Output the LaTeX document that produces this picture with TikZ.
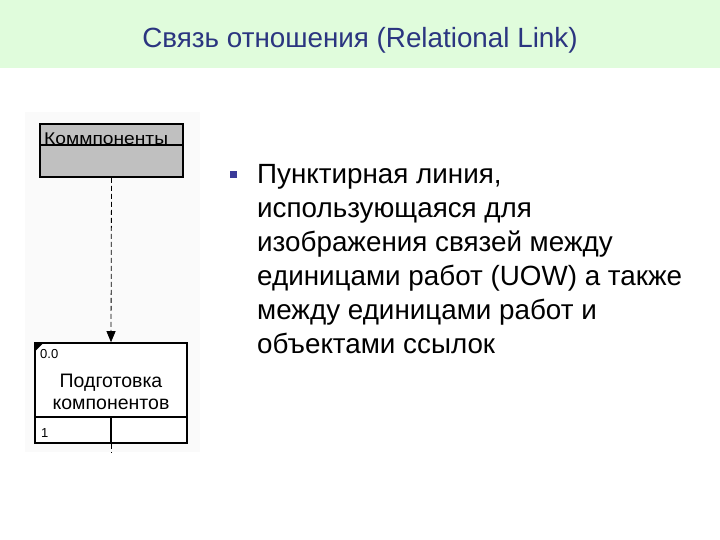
\documentclass[tikz,border=0pt]{standalone}
\usepackage{fontspec}
\setmainfont{Liberation Sans}
\usetikzlibrary{arrows.meta,positioning}
\definecolor{bandgreen}{HTML}{E0FCDC}
\definecolor{titleblue}{HTML}{2B3580}
\definecolor{bulletblue}{HTML}{3A3A99}
\definecolor{boxgray}{HTML}{C0C0C0}

\begin{document}
\begin{tikzpicture}[x=1pt, y=-1pt,
    >={Triangle[length=11pt,width=9pt]},
    entity/.style={draw, rectangle, line width=1.6pt, inner sep=0pt},
    link/.style={dashed, dash pattern=on 5pt off 3pt, line width=0.8pt},
    boxtext/.style={font=\fontsize{19.5}{22}\selectfont, inner sep=0pt},
    smalltext/.style={font=\fontsize{13}{15}\selectfont, anchor=west, inner sep=0pt}
]
\useasboundingbox (0,0) rectangle (720,540);

% --- title band ---
\fill[bandgreen] (0,0) rectangle (720,68);
\node[font=\fontsize{27.8}{32}\selectfont, text=titleblue] (title) at (360,40) {Связь отношения (Relational Link)};

% --- picture area ---
\fill[black!2] (25,112) rectangle (200,452);

% --- referent box ---
\node[entity, fill=boxgray, minimum width=143pt, minimum height=53pt] (comp) at (111.5,150.5) {};
\draw[line width=1.6pt] ([yshift=-22pt]comp.north west) -- ([yshift=-22pt]comp.north east);
\node[font=\fontsize{17}{20}\selectfont, inner sep=0pt, anchor=west] (comptext) at (44,139) {\scalebox{1.13}[1]{Коммпоненты}};

% --- unit of work box ---
\node[entity, fill=white, minimum width=152pt, minimum height=100pt] (uow) at (111,393) {};
\draw[line width=1.6pt] ([yshift=27pt]uow.south west) -- ([yshift=27pt]uow.south east);
\draw[line width=1.6pt] ([yshift=27pt]uow.south) -- (uow.south);
\fill (uow.north west) -- ++(10,0) -- ++(-10,10) -- cycle;
\node[smalltext] (num) at (40,354) {0.0};
\node[boxtext, align=center] (uowtext) at (111,392) {Подготовка\\компонентов};
\node[smalltext] (ref) at (41,433) {1};

% --- relational link ---
\draw[link, ->] (comp.south) -- (uow.north);
\coordinate (tail) at (111,453);
\draw[link] (uow.south) -- (tail);

% --- bullet text ---
\fill[bulletblue] (229.5,171.5) rectangle (236.5,178.5);
\node[anchor=north west, align=left, inner sep=0pt, font=\fontsize{27.8}{34}\selectfont] (desc) at (257,164)
  {Пунктирная линия,\\использующаяся для\\изображения связей между\\единицами работ (UOW) а также\\между единицами работ и\\объектами ссылок};
\end{tikzpicture}
\end{document}
